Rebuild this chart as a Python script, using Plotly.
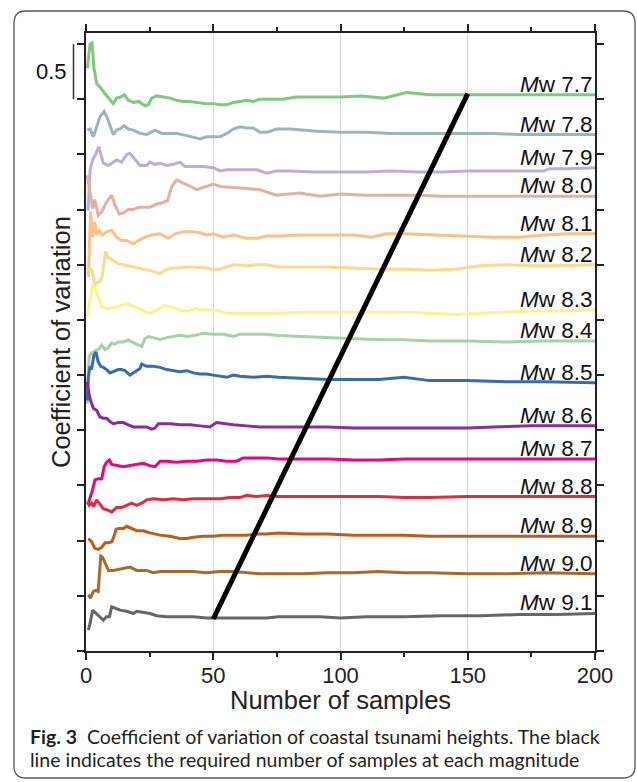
import plotly.graph_objects as go

# ---------------- data ----------------
magnitudes = ["7.7", "7.8", "7.9", "8.0", "8.1", "8.2", "8.3", "8.4",
              "8.5", "8.6", "8.7", "8.8", "8.9", "9.0", "9.1"]
colors = ["#7fc97f", "#9db4bf", "#beaed4", "#e3b0a6", "#fdc086", "#fdd98b",
          "#fbf38c", "#a5d2a6", "#386cb0", "#8c2ba0", "#f0027f", "#de2d3e",
          "#bf5b17", "#a8692c", "#666666"]

x_77 = [0.5, 1.6, 2.4, 3.1, 4.2, 5.5, 7.5, 10.7, 12.0, 13.6, 15.1, 16.6, 18.6, 20.6, 23.2, 24.5, 25.8, 27.8, 30.4, 33.0,
        35.6, 38.2, 40.9, 43.5, 47.4, 50.0, 52.7, 55.3, 57.9, 60.5, 63.1, 65.7, 68.4, 71.0, 74.9, 77.5, 82.8, 90.7, 100, 108,
        117, 126, 135, 145, 160, 175, 190, 200]
y_77 = [5.28, 5.50, 5.51, 5.29, 5.14, 5.11, 5.05, 4.96, 5.01, 5.02, 5.04, 4.99, 4.97, 4.98, 4.94, 4.95, 5.01, 5.03, 5.02, 5.01,
        4.99, 4.98, 4.98, 4.97, 4.96, 4.96, 4.95, 4.95, 4.97, 4.98, 4.99, 4.98, 5.00, 5.00, 5.00, 5.00, 5.02, 5.02, 5.02, 5.03,
        5.01, 5.06, 5.04, 5.04, 5.04, 5.04, 5.04, 5.04]

x_78 = [0.5, 1.6, 2.9, 4.2, 5.5, 7.1, 8.4, 10.7, 12.0, 13.4, 14.9, 16.6, 18.6, 21.2, 23.8, 27.1, 29.7, 32.4, 35.6, 39.6,
        42.8, 44.8, 47.4, 50.0, 52.7, 55.3, 57.9, 60.5, 63.1, 65.7, 68.4, 71.0, 74.9, 80.2, 90.7, 100, 110, 120, 130, 140,
        150, 160, 170, 180, 190, 200]
y_78 = [4.72, 4.73, 4.66, 4.75, 4.84, 4.89, 4.83, 4.68, 4.72, 4.73, 4.76, 4.73, 4.72, 4.69, 4.68, 4.72, 4.69, 4.69, 4.69, 4.67,
        4.65, 4.64, 4.66, 4.66, 4.66, 4.69, 4.73, 4.75, 4.74, 4.74, 4.70, 4.70, 4.73, 4.73, 4.71, 4.70, 4.70, 4.69, 4.69, 4.69,
        4.69, 4.69, 4.68, 4.68, 4.68, 4.68]

x_79 = [0.8, 1.6, 2.6, 4.0, 5.0, 6.8, 8.8, 10.1, 12.0, 14.0, 16.0, 17.3, 19.3, 21.2, 23.8, 25.1, 27.1, 29.1, 31.7, 34.3,
        36.9, 38.9, 42.2, 46.1, 50.0, 52.7, 55.3, 59.2, 63.1, 67.1, 71.0, 74.9, 80, 90, 100, 110, 120, 130, 140, 150,
        160, 170, 180, 182, 190, 200]
y_79 = [3.99, 4.36, 4.45, 4.51, 4.57, 4.42, 4.40, 4.42, 4.45, 4.43, 4.50, 4.51, 4.45, 4.40, 4.40, 4.43, 4.41, 4.42, 4.40, 4.41,
        4.43, 4.39, 4.39, 4.39, 4.38, 4.35, 4.36, 4.36, 4.36, 4.36, 4.33, 4.35, 4.35, 4.34, 4.34, 4.34, 4.35, 4.34, 4.34, 4.35,
        4.35, 4.35, 4.35, 4.37, 4.37, 4.38]

x_80 = [0.5, 1.6, 2.6, 3.4, 4.8, 6.2, 8.1, 10.1, 11.4, 13.1, 14.7, 16.6, 18.6, 20.6, 22.5, 25.1, 27.8, 29.7, 32.0, 33.7,
        35.6, 37.6, 40.2, 43.5, 47.4, 50.0, 52.7, 56.6, 60.5, 63.1, 68.4, 72.3, 74.8, 84, 92, 100, 110, 120, 130, 140,
        150, 160, 170, 180, 190, 200]
y_80 = [4.31, 4.15, 4.01, 4.09, 3.95, 3.98, 4.07, 4.13, 4.04, 3.96, 3.97, 4.00, 4.00, 4.02, 4.02, 4.02, 4.05, 4.06, 4.08, 4.21,
        4.27, 4.25, 4.22, 4.18, 4.21, 4.23, 4.21, 4.20, 4.19, 4.19, 4.18, 4.15, 4.13, 4.15, 4.12, 4.14, 4.13, 4.13, 4.13, 4.12,
        4.12, 4.12, 4.12, 4.12, 4.12, 4.12]

x_81 = [0.9, 1.8, 2.6, 3.4, 4.2, 5.2, 6.5, 8.1, 10.1, 12.0, 14.0, 16.0, 18.6, 20.6, 23.2, 25.8, 29.1, 32.4, 35.0, 38.2,
        42.2, 44.8, 47.4, 50.0, 54.0, 57.9, 63.1, 67.1, 71.0, 75.6, 85, 95, 105, 112, 118, 125, 135, 150, 160, 170,
        180, 190, 200]
y_81 = [3.39, 3.98, 3.75, 3.89, 3.77, 3.81, 3.77, 3.80, 3.81, 3.75, 3.72, 3.72, 3.69, 3.72, 3.75, 3.77, 3.78, 3.74, 3.78, 3.80,
        3.80, 3.79, 3.77, 3.78, 3.75, 3.77, 3.74, 3.74, 3.76, 3.76, 3.77, 3.77, 3.77, 3.75, 3.78, 3.78, 3.77, 3.76, 3.75, 3.75,
        3.77, 3.78, 3.78]

x_82 = [0.5, 1.5, 2.5, 3.5, 4.5, 5.5, 6.3, 7.1, 7.7, 8.5, 10.7, 12.7, 14.7, 16.6, 18.6, 21.2, 23.8, 26.5, 29.1, 31.7,
        34.3, 36.9, 39.6, 42.2, 47.4, 50.0, 52.7, 55.3, 57.9, 63.1, 67.1, 71.0, 75.6, 85, 95, 105, 115, 125, 135, 145,
        155, 165, 175, 185, 200]
y_82 = [3.45, 3.47, 3.44, 3.32, 3.34, 3.35, 3.39, 3.51, 3.62, 3.57, 3.54, 3.51, 3.50, 3.49, 3.48, 3.47, 3.45, 3.44, 3.42, 3.46,
        3.47, 3.47, 3.48, 3.48, 3.47, 3.46, 3.46, 3.48, 3.50, 3.49, 3.50, 3.50, 3.48, 3.48, 3.48, 3.47, 3.46, 3.46, 3.45, 3.46,
        3.49, 3.50, 3.49, 3.49, 3.50]

x_83 = [0.5, 1.6, 2.6, 3.5, 4.8, 6.2, 8.1, 10.7, 13.4, 16.0, 17.9, 20.6, 22.5, 25.1, 27.8, 31.0, 34.3, 36.9, 39.6, 42.8,
        46.1, 50.0, 52.7, 55.3, 60.5, 65.7, 71.0, 75.6, 85, 95, 105, 115, 125, 135, 145, 155, 165, 175, 185, 200]
y_83 = [3.03, 3.21, 3.33, 3.29, 3.21, 3.12, 3.10, 3.11, 3.13, 3.15, 3.13, 3.11, 3.08, 3.06, 3.09, 3.13, 3.11, 3.09, 3.08, 3.10,
        3.09, 3.09, 3.08, 3.06, 3.06, 3.06, 3.06, 3.06, 3.07, 3.07, 3.07, 3.07, 3.07, 3.06, 3.05, 3.06, 3.07, 3.08, 3.08, 3.09]

x_84 = [0.5, 0.8, 1.2, 2.2, 3.5, 4.8, 6.2, 7.5, 8.8, 10.1, 11.4, 12.7, 14.7, 16.6, 17.9, 19.9, 21.9, 23.2, 24.5, 26.5,
        29.1, 31.7, 34.3, 36.9, 39.6, 42.8, 46.1, 50.0, 54.0, 57.9, 60.5, 65.7, 71.0, 75.6, 85, 95, 105, 115, 125, 135,
        150, 165, 180, 200]
y_84 = [2.24, 2.45, 2.67, 2.70, 2.72, 2.73, 2.77, 2.73, 2.75, 2.79, 2.78, 2.80, 2.80, 2.82, 2.80, 2.78, 2.76, 2.83, 2.85, 2.84,
        2.82, 2.84, 2.85, 2.86, 2.85, 2.86, 2.88, 2.87, 2.87, 2.85, 2.87, 2.87, 2.87, 2.86, 2.85, 2.84, 2.83, 2.82, 2.82, 2.81,
        2.81, 2.80, 2.81, 2.81]

x_85 = [0.5, 0.9, 1.6, 2.2, 3.1, 3.9, 4.8, 5.8, 6.8, 8.1, 9.4, 10.7, 12.7, 14.0, 15.3, 17.3, 19.3, 21.2, 21.9, 23.8,
        26.5, 29.1, 31.7, 34.3, 36.9, 39.6, 42.2, 44.8, 47.4, 50.0, 52.7, 55.3, 57.9, 60.5, 65.7, 71.0, 75.6, 85, 95, 105,
        115, 125, 135, 150, 165, 180, 200]
y_85 = [2.27, 2.48, 2.58, 2.55, 2.68, 2.71, 2.62, 2.58, 2.57, 2.55, 2.52, 2.53, 2.55, 2.55, 2.54, 2.50, 2.53, 2.56, 2.60, 2.58,
        2.58, 2.57, 2.55, 2.54, 2.53, 2.54, 2.52, 2.51, 2.51, 2.50, 2.49, 2.48, 2.50, 2.49, 2.48, 2.49, 2.48, 2.47, 2.46, 2.46,
        2.46, 2.48, 2.45, 2.45, 2.44, 2.44, 2.43]

x_86 = [0.5, 0.9, 1.8, 2.9, 4.2, 5.5, 6.8, 8.1, 9.4, 10.7, 12.7, 14.7, 16.6, 18.6, 21.2, 23.8, 25.8, 27.1, 28.4, 30.4,
        33.0, 36.9, 40.9, 44.8, 48.7, 51.3, 54.0, 57.9, 63.1, 68.4, 75.6, 85, 95, 105, 115, 125, 135, 150, 160, 175,
        190, 200]
y_86 = [2.44, 2.36, 2.27, 2.20, 2.18, 2.12, 2.11, 2.11, 2.08, 2.06, 2.07, 2.07, 2.05, 2.03, 2.03, 2.03, 2.01, 2.02, 2.06, 2.06,
        2.06, 2.05, 2.05, 2.04, 2.03, 2.07, 2.06, 2.05, 2.04, 2.03, 2.03, 2.03, 2.03, 2.02, 2.02, 2.02, 2.02, 2.02, 2.03, 2.04,
        2.04, 2.04]

x_87 = [0.9, 1.8, 2.6, 3.5, 4.8, 6.2, 7.1, 8.1, 9.2, 10.1, 12.0, 14.7, 17.3, 19.9, 22.5, 25.1, 27.1, 29.1, 31.7, 35.6,
        39.6, 43.5, 47.4, 51.3, 55.3, 59.2, 61.8, 65.7, 71.0, 75.6, 85, 95, 105, 115, 125, 135, 150, 165, 180, 200]
y_87 = [1.34, 1.40, 1.46, 1.55, 1.56, 1.56, 1.67, 1.71, 1.73, 1.69, 1.68, 1.67, 1.68, 1.69, 1.70, 1.68, 1.67, 1.72, 1.72, 1.71,
        1.72, 1.72, 1.73, 1.73, 1.72, 1.72, 1.75, 1.75, 1.75, 1.74, 1.74, 1.74, 1.73, 1.73, 1.74, 1.74, 1.74, 1.74, 1.74, 1.74]

x_88 = [0.5, 1.3, 2.2, 3.1, 4.2, 5.5, 6.8, 8.1, 10.1, 12.0, 14.0, 16.0, 17.9, 19.9, 21.9, 23.8, 26.5, 30.4, 34.3, 38.2,
        42.2, 46.1, 50.0, 52.7, 56.6, 60.5, 63.1, 67.1, 71.0, 75.6, 85, 95, 105, 115, 125, 135, 150, 165, 180, 200]
y_88 = [1.35, 1.32, 1.34, 1.31, 1.37, 1.33, 1.29, 1.28, 1.26, 1.30, 1.30, 1.32, 1.34, 1.32, 1.34, 1.37, 1.38, 1.37, 1.38, 1.37,
        1.38, 1.38, 1.38, 1.38, 1.39, 1.39, 1.41, 1.40, 1.41, 1.40, 1.40, 1.40, 1.40, 1.40, 1.39, 1.39, 1.40, 1.40, 1.40, 1.40]

x_89 = [0.9, 2.2, 3.5, 4.8, 6.2, 7.5, 8.8, 10.1, 11.0, 11.8, 12.7, 14.7, 16.0, 17.9, 19.9, 22.5, 25.1, 29.1, 33.0, 36.9,
        39.6, 42.2, 46.1, 50.0, 54.0, 57.9, 63.1, 67.1, 71.0, 75.6, 85, 95, 105, 115, 125, 135, 150, 165, 180, 200]
y_89 = [1.02, 0.99, 0.93, 0.92, 0.94, 0.98, 0.98, 0.99, 1.04, 1.10, 1.11, 1.11, 1.13, 1.11, 1.09, 1.09, 1.07, 1.05, 1.04, 1.02,
        1.02, 1.03, 1.04, 1.04, 1.05, 1.05, 1.05, 1.06, 1.06, 1.07, 1.06, 1.06, 1.05, 1.05, 1.05, 1.04, 1.04, 1.04, 1.04, 1.04]

x_90 = [0.9, 1.8, 2.9, 3.9, 4.8, 5.8, 6.5, 7.5, 8.8, 10.7, 13.4, 17.3, 19.9, 23.8, 26.5, 29.1, 33.0, 36.9, 42.2, 47.4,
        52.7, 57.9, 63.1, 68.4, 75.6, 85, 95, 105, 115, 125, 135, 150, 165, 180, 200]
y_90 = [0.51, 0.48, 0.54, 0.55, 0.54, 0.86, 0.85, 0.79, 0.73, 0.73, 0.74, 0.76, 0.73, 0.73, 0.71, 0.72, 0.72, 0.72, 0.72, 0.71,
        0.72, 0.72, 0.71, 0.70, 0.70, 0.70, 0.71, 0.71, 0.72, 0.71, 0.71, 0.70, 0.70, 0.71, 0.70]

x_91 = [0.9, 1.6, 2.6, 3.9, 5.5, 6.8, 8.1, 9.2, 10.1, 11.4, 13.4, 16.0, 18.6, 19.9, 22.5, 25.1, 27.8, 31.7, 36.9, 42.2,
        47.4, 50.0, 55.3, 60.5, 65.7, 71.0, 75.6, 85, 92, 100, 110, 125, 140, 155, 170, 185, 200]
y_91 = [0.19, 0.25, 0.37, 0.34, 0.31, 0.28, 0.31, 0.31, 0.40, 0.39, 0.37, 0.36, 0.34, 0.36, 0.35, 0.34, 0.32, 0.31, 0.31, 0.31,
        0.30, 0.30, 0.30, 0.30, 0.30, 0.30, 0.31, 0.31, 0.31, 0.30, 0.31, 0.31, 0.32, 0.32, 0.33, 0.33, 0.34]

# required number of samples (black line)
req_x = [50, 150]
req_y = [0.29, 5.05]

x_ticks = [0, 50, 100, 150, 200]
scale_bar = [5.0, 5.5]
scale_label = "0.5"

series_x = [x_77, x_78, x_79, x_80, x_81, x_82, x_83, x_84, x_85, x_86, x_87, x_88, x_89, x_90, x_91]
series_y = [y_77, y_78, y_79, y_80, y_81, y_82, y_83, y_84, y_85, y_86, y_87, y_88, y_89, y_90, y_91]

# ---------------- geometry ----------------
W, H = 637, 782
L, R, T, B = 86, 42, 33, 131
PW, PH = W - L - R, H - T - B


def px(xp):
    return (xp - L) / PW


def py(yp):
    return (H - B - yp) / PH


FONT = "Liberation Sans, Arial, Helvetica, sans-serif"

fig = go.Figure()
for xs, ys, c, m in zip(series_x, series_y, colors, magnitudes):
    fig.add_trace(go.Scatter(x=xs, y=ys, mode="lines", line=dict(color=c, width=3),
                             name="Mw " + m, showlegend=False, hoverinfo="skip"))
    fig.add_annotation(x=200, y=ys[-1], xref="x", yref="y", xanchor="right", yanchor="bottom",
                       text="<i>M</i>w " + m, showarrow=False, xshift=0, yshift=-4,
                       font=dict(family=FONT, size=22.5, color="#111"))

fig.add_trace(go.Scatter(x=req_x, y=req_y, mode="lines", line=dict(color="black", width=5),
                         showlegend=False, hoverinfo="skip"))

# scale bar
fig.add_shape(type="line", xref="paper", yref="y", x0=px(73.5), x1=px(73.5),
              y0=scale_bar[0], y1=scale_bar[1], line=dict(color="#333", width=1.5))
fig.add_annotation(x=px(69), y=sum(scale_bar) / 2, xref="paper", yref="y", xanchor="right",
                   yanchor="middle", text=scale_label, showarrow=False,
                   font=dict(family=FONT, size=22, color="#111"))

# axis titles
fig.add_annotation(x=px(61), y=py(342), xref="paper", yref="paper", xanchor="center", yanchor="middle",
                   text="Coefficient of variation", textangle=-90, showarrow=False,
                   font=dict(family=FONT, size=25.5, color="#222"))
fig.add_annotation(x=px(340), y=py(700), xref="paper", yref="paper", xanchor="center", yanchor="middle",
                   text="Number of samples", showarrow=False,
                   font=dict(family=FONT, size=25.5, color="#222"))

# caption
CAP = "Lato, Open Sans, sans-serif"
fig.add_annotation(x=px(28), y=py(736), xref="paper", yref="paper", xanchor="left", yanchor="middle",
                   text="<b>Fig. 3</b>\u00a0\u00a0Coefficient of variation of coastal tsunami heights. The black",
                   showarrow=False, font=dict(family=CAP, size=19.5, color="#231f20"))
fig.add_annotation(x=px(28), y=py(759), xref="paper", yref="paper", xanchor="left", yanchor="middle",
                   text="line indicates the required number of samples at each magnitude",
                   showarrow=False, font=dict(family=CAP, size=19.5, color="#231f20"))

# rounded outer border
x0, x1, y0, y1, r = 14, 635, 11, 778, 12
path = (f"M {px(x0 + r)},{py(y0)} L {px(x1 - r)},{py(y0)} Q {px(x1)},{py(y0)} {px(x1)},{py(y0 + r)} "
        f"L {px(x1)},{py(y1 - r)} Q {px(x1)},{py(y1)} {px(x1 - r)},{py(y1)} "
        f"L {px(x0 + r)},{py(y1)} Q {px(x0)},{py(y1)} {px(x0)},{py(y1 - r)} "
        f"L {px(x0)},{py(y0 + r)} Q {px(x0)},{py(y0)} {px(x0 + r)},{py(y0)} Z")
fig.add_shape(type="path", xref="paper", yref="paper", path=path,
              line=dict(color="#555", width=1.3), layer="below")

fig.update_layout(
    width=W, height=H, margin=dict(l=L, r=R, t=T, b=B),
    paper_bgcolor="white", plot_bgcolor="white",
    xaxis=dict(range=[0, 200], tickvals=x_ticks, ticktext=[str(v) for v in x_ticks],
               showline=True, linecolor="#222", linewidth=1.5, mirror="ticks",
               ticks="outside", ticklen=7, tickwidth=1.5, tickcolor="#222",
               ticklabelstandoff=-3,
               minor=dict(dtick=25, tick0=0, ticks="outside", ticklen=4, tickwidth=1.5,
                          tickcolor="#222", showgrid=False),
               showgrid=True, gridcolor="#d8d8d8", gridwidth=1, zeroline=False,
               tickfont=dict(family=FONT, size=22, color="#222")),
    yaxis=dict(range=[0, 5.6], tick0=0, dtick=0.5, showticklabels=False,
               showline=True, linecolor="#222", linewidth=1.5, mirror="ticks",
               ticks="outside", ticklen=7, tickwidth=1.5, tickcolor="#222",
               showgrid=False, zeroline=False),
)

fig.write_html("out.html", config={"displayModeBar": False},
               post_script="document.body.style.margin='0';")
